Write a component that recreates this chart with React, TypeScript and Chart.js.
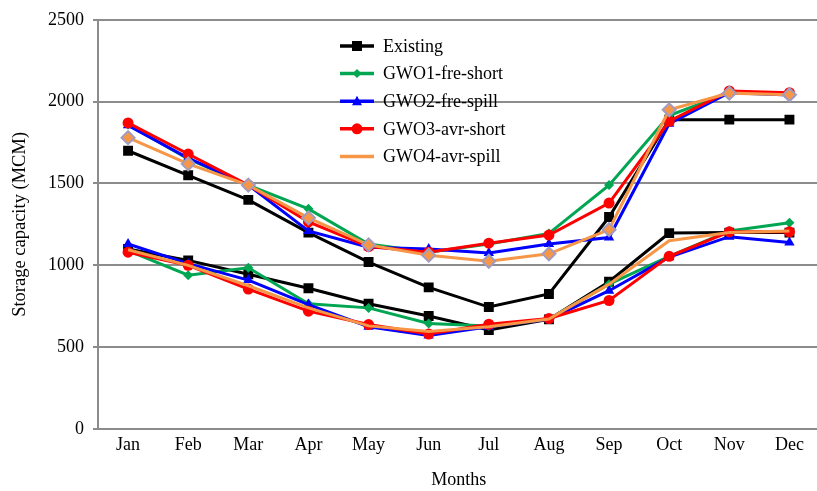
import React, { useEffect, useRef } from "react";
import { Chart, registerables } from "chart.js";

Chart.register(...registerables);

const months = ["Jan", "Feb", "Mar", "Apr", "May", "Jun", "Jul", "Aug", "Sep", "Oct", "Nov", "Dec"];
const yTicks = [0, 500, 1000, 1500, 2000, 2500];

// Upper curves
const existingUpper = [1700, 1550, 1400, 1200, 1020, 865, 745, 825, 1295, 1890, 1890, 1890];
const gwo1Upper = [1860, 1650, 1490, 1345, 1130, 1080, 1130, 1195, 1490, 1915, 2055, 2045];
const gwo2Upper = [1855, 1655, 1490, 1210, 1110, 1100, 1075, 1130, 1170, 1865, 2055, 2040];
const gwo3Upper = [1870, 1680, 1490, 1265, 1115, 1080, 1135, 1185, 1380, 1880, 2065, 2055];
const gwo4Upper = [1780, 1620, 1490, 1290, 1125, 1062, 1025, 1070, 1218, 1950, 2052, 2042];

// Lower curves
const existingLower = [1100, 1030, 945, 860, 765, 690, 605, 670, 900, 1197, 1200, 1200];
const gwo1Lower = [1090, 940, 985, 765, 740, 645, 630, 672, 885, 1055, 1210, 1260];
const gwo2Lower = [1130, 1010, 910, 760, 625, 572, 625, 670, 845, 1050, 1175, 1140];
const gwo3Lower = [1080, 1000, 855, 720, 638, 580, 640, 675, 785, 1055, 1205, 1205];
const gwo4Lower = [1095, 1000, 875, 740, 630, 595, 625, 672, 885, 1150, 1200, 1210];

const seriesNames = ["Existing", "GWO1-fre-short", "GWO2-fre-spill", "GWO3-avr-short", "GWO4-avr-spill"];
const seriesColors = ["#000000", "#00A651", "#0000FF", "#FF0000", "#F79646"];

const FONT = '"Liberation Serif", "Times New Roman", serif';

const legendPlugin = {
  id: "customLegend",
  afterDraw(chart: any) {
    const ctx = chart.ctx;
    const x0 = 340;
    const x1 = 374;
    const tx = 383;
    const y0 = 46;
    const dy = 27.6;
    ctx.save();
    seriesNames.forEach((name, i) => {
      const y = y0 + i * dy;
      const c = seriesColors[i];
      ctx.strokeStyle = c;
      ctx.lineWidth = 3.5;
      ctx.beginPath();
      ctx.moveTo(x0, y);
      ctx.lineTo(x1, y);
      ctx.stroke();
      const cx = (x0 + x1) / 2;
      ctx.fillStyle = c;
      ctx.beginPath();
      if (i === 0) {
        ctx.rect(cx - 5, y - 5, 10, 10);
      } else if (i === 1) {
        ctx.moveTo(cx, y - 4.5);
        ctx.lineTo(cx + 4.5, y);
        ctx.lineTo(cx, y + 4.5);
        ctx.lineTo(cx - 4.5, y);
        ctx.closePath();
      } else if (i === 2) {
        ctx.moveTo(cx, y - 5.5);
        ctx.lineTo(cx + 5, y + 4);
        ctx.lineTo(cx - 5, y + 4);
        ctx.closePath();
      } else if (i === 3) {
        ctx.arc(cx, y, 5.5, 0, Math.PI * 2);
      }
      if (i < 4) ctx.fill();
      ctx.fillStyle = "#000";
      ctx.font = `18px ${FONT}`;
      ctx.textAlign = "left";
      ctx.textBaseline = "middle";
      ctx.fillText(name, tx, y + 1);
    });
    ctx.restore();
  },
};

export default function App() {
  const ref = useRef<HTMLCanvasElement>(null);

  useEffect(() => {
    if (!ref.current) return;
    const mk = (data: number[], i: number, opts: any) => ({
      label: seriesNames[i],
      data,
      borderColor: seriesColors[i],
      backgroundColor: seriesColors[i],
      borderWidth: 3,
      pointBorderWidth: 0,
      fill: false,
      tension: 0,
      ...opts,
    });
    const styles = [
      { pointStyle: "rect", pointRadius: 7 },
      { pointStyle: "rectRot", pointRadius: 5 },
      { pointStyle: "triangle", pointRadius: 6 },
      { pointStyle: "circle", pointRadius: 5.5 },
    ];
    const datasets: any[] = [];
    const uppers = [existingUpper, gwo1Upper, gwo2Upper, gwo3Upper];
    const lowers = [existingLower, gwo1Lower, gwo2Lower, gwo3Lower];
    for (let i = 0; i < 4; i++) {
      datasets.push(mk(lowers[i], i, { ...styles[i], order: 20 - i }));
    }
    datasets.push(mk(gwo4Lower, 4, { pointRadius: 0, order: 15 }));
    for (let i = 0; i < 4; i++) {
      datasets.push(mk(uppers[i], i, { ...styles[i], order: 10 - i }));
    }
    datasets.push(
      mk(gwo4Upper, 4, {
        pointStyle: "rectRot",
        pointRadius: 6.5,
        pointBorderColor: "#A09CC0",
        pointBorderWidth: 2,
        pointBackgroundColor: "#F79646",
        order: 5,
      })
    );

    const chart = new Chart(ref.current, {
      type: "line",
      data: { labels: months, datasets },
      options: {
        animation: false,
        responsive: false,
        devicePixelRatio: 1,
        layout: { padding: { top: 16, right: 0, bottom: 0, left: 0 } },
        plugins: { legend: { display: false }, tooltip: { enabled: false } },
        scales: {
          x: {
            offset: true,
            grid: { display: false, drawTicks: false },
            border: { display: true, color: "#8c8c8c", width: 2 },
            ticks: { color: "#000", font: { family: FONT, size: 18 }, padding: 5 },
            title: {
              display: true,
              text: "Months",
              color: "#000",
              font: { family: FONT, size: 18 },
              padding: { top: 0, bottom: 0 },
            },
            afterFit: (s: any) => {
              s.height = 62;
            },
          },
          y: {
            min: yTicks[0],
            max: yTicks[yTicks.length - 1],
            afterBuildTicks: (s: any) => {
              s.ticks = yTicks.map((v) => ({ value: v }));
            },
            ticks: {
              color: "#000",
              font: { family: FONT, size: 18 },
              padding: 9,
              callback: (v: any) => String(v),
            },
            grid: { color: "#8c8c8c", lineWidth: 2, tickLength: 5, drawTicks: true },
            border: { display: true, color: "#8c8c8c", width: 2 },
            title: {
              display: true,
              text: "Storage capacity (MCM)",
              color: "#000",
              font: { family: FONT, size: 18.5 },
              padding: { top: 9, bottom: 0 },
            },
            afterFit: (s: any) => {
              s.width = 98;
            },
          },
        },
      },
      plugins: [legendPlugin],
    });
    return () => chart.destroy();
  }, []);

  return (
    <div
      style={{
        position: "fixed",
        left: 0,
        top: 0,
        width: 817,
        height: 491,
        overflow: "hidden",
        background: "#fff",
      }}
    >
      <canvas ref={ref} width={828} height={491} style={{ width: 828, height: 491, display: "block" }} />
    </div>
  );
}
